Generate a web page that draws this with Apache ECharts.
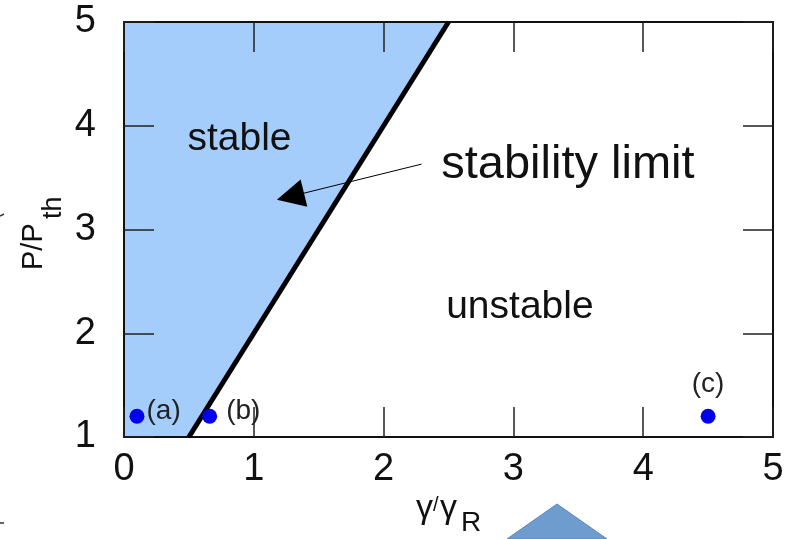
<!DOCTYPE html>
<html><head><meta charset="utf-8">
<script src="https://cdn.jsdelivr.net/npm/echarts@6/dist/echarts.min.js"></script>
<style>html,body{margin:0;padding:0;background:#fff}#c{width:797px;height:539px}</style>
</head><body><div id="c"></div>
<script>
const xTicks = [0, 1, 2, 3, 4, 5];
const yTicks = [1, 2, 3, 4, 5];
const stableRegion = [[0, 1], [0.5, 1], [2.5, 5], [0, 5]];
const stabilityLimit = [[0.5, 1], [2.5, 5]];
const points = [[0.1, 1.2, '(a)'], [0.66, 1.2, '(b)'], [4.5, 1.2, '(c)']];
const annotations = [
  [0.89, 3.87, 'stable', 39],
  [3.42, 3.62, 'stability limit', 47],
  [3.05, 2.25, 'unstable', 39]
];
const arrowLine = [[2.292, 3.63], [1.282, 3.318]];

const font = 'Liberation Sans, Arial, sans-serif';
const chart = echarts.init(document.getElementById('c'));
function axis(extra) {
  return Object.assign({
    type: 'value', splitLine: {show: false}, z: 2,
    axisLine: {show: true, onZero: false, lineStyle: {color: '#111', width: 2}},
    axisTick: {show: true, inside: true, length: 30, lineStyle: {color: '#222', width: 1.5}}
  }, extra);
}
const txt = (x, y, text, size, extra) => Object.assign({type: 'text', x: x, y: y, style: {
  text: text, fontSize: size, fontFamily: font, fill: '#111', align: 'left', verticalAlign: 'middle'}}, extra || {});
chart.setOption({
  animation: false,
  grid: {left: 124, right: 24, top: 22, bottom: 102},
  xAxis: [
    axis({position: 'bottom', min: 0, max: 5, interval: 1,
      axisLabel: {color: '#111', fontSize: 38, fontFamily: font, margin: 14}}),
    axis({position: 'top', min: 0, max: 5, interval: 1, axisLabel: {show: false}})
  ],
  yAxis: [
    axis({position: 'left', min: 1, max: 5, interval: 1,
      axisLabel: {color: '#111', fontSize: 38, fontFamily: font, margin: 28}}),
    axis({position: 'right', min: 1, max: 5, interval: 1, axisLabel: {show: false}})
  ],
  graphic: [
    txt(416, 509, 'γ', 34),
    txt(433, 505, '/', 20),
    txt(440, 509, 'γ', 34),
    txt(461, 523, 'R', 28),
    txt(34, 270, 'P/P', 29, {rotation: Math.PI / 2}),
    txt(54, 219, 'th', 27, {rotation: Math.PI / 2}),
    {type: 'polygon', shape: {points: [[507, 539], [557, 504], [607, 539]]},
      style: {fill: '#6f9ccf', stroke: '#5a86bb', lineWidth: 1}},
    {type: 'line', shape: {x1: 0, y1: 216, x2: 4, y2: 214}, style: {stroke: '#333', lineWidth: 1.5}},
    {type: 'line', shape: {x1: 0, y1: 523, x2: 4, y2: 523}, style: {stroke: '#333', lineWidth: 1.5}}
  ],
  series: [
    {
      type: 'custom', xAxisIndex: 0, yAxisIndex: 0, silent: true, z: 1,
      data: [0],
      renderItem: function (params, api) {
        return {type: 'polygon', shape: {points: stableRegion.map(p => api.coord(p))},
          style: {fill: '#a4cdfb'}};
      }
    },
    {
      type: 'line', data: stabilityLimit, symbol: 'none', z: 3,
      lineStyle: {color: '#000', width: 5}
    },
    {
      type: 'lines', coordinateSystem: 'cartesian2d', z: 4,
      symbol: ['none', 'triangle'], symbolSize: [0, 28],
      lineStyle: {color: '#000', width: 1, opacity: 1},
      data: [{coords: arrowLine}]
    },
    {
      type: 'scatter', z: 5, symbolSize: 15, itemStyle: {color: '#0000ee', opacity: 1},
      data: points.map(p => ({value: [p[0], p[1]], label: {
        show: true, formatter: p[2], fontSize: 28, fontFamily: font, color: '#222',
        position: p[2] === '(c)' ? 'top' : 'right', distance: p[2] === '(c)' ? 10 : (p[2] === '(a)' ? 2 : 9),
        offset: p[2] === '(c)' ? [0, 0] : [0, -5]
      }}))
    },
    {
      type: 'scatter', z: 6, symbolSize: 0, silent: true, itemStyle: {opacity: 1},
      data: annotations.map(a => ({value: [a[0], a[1]], label: {
        show: true, position: [0, 0], align: 'center', verticalAlign: 'middle',
        formatter: a[2], fontSize: a[3], fontFamily: font, color: '#111'
      }}))
    }
  ]
});
</script></body></html>
